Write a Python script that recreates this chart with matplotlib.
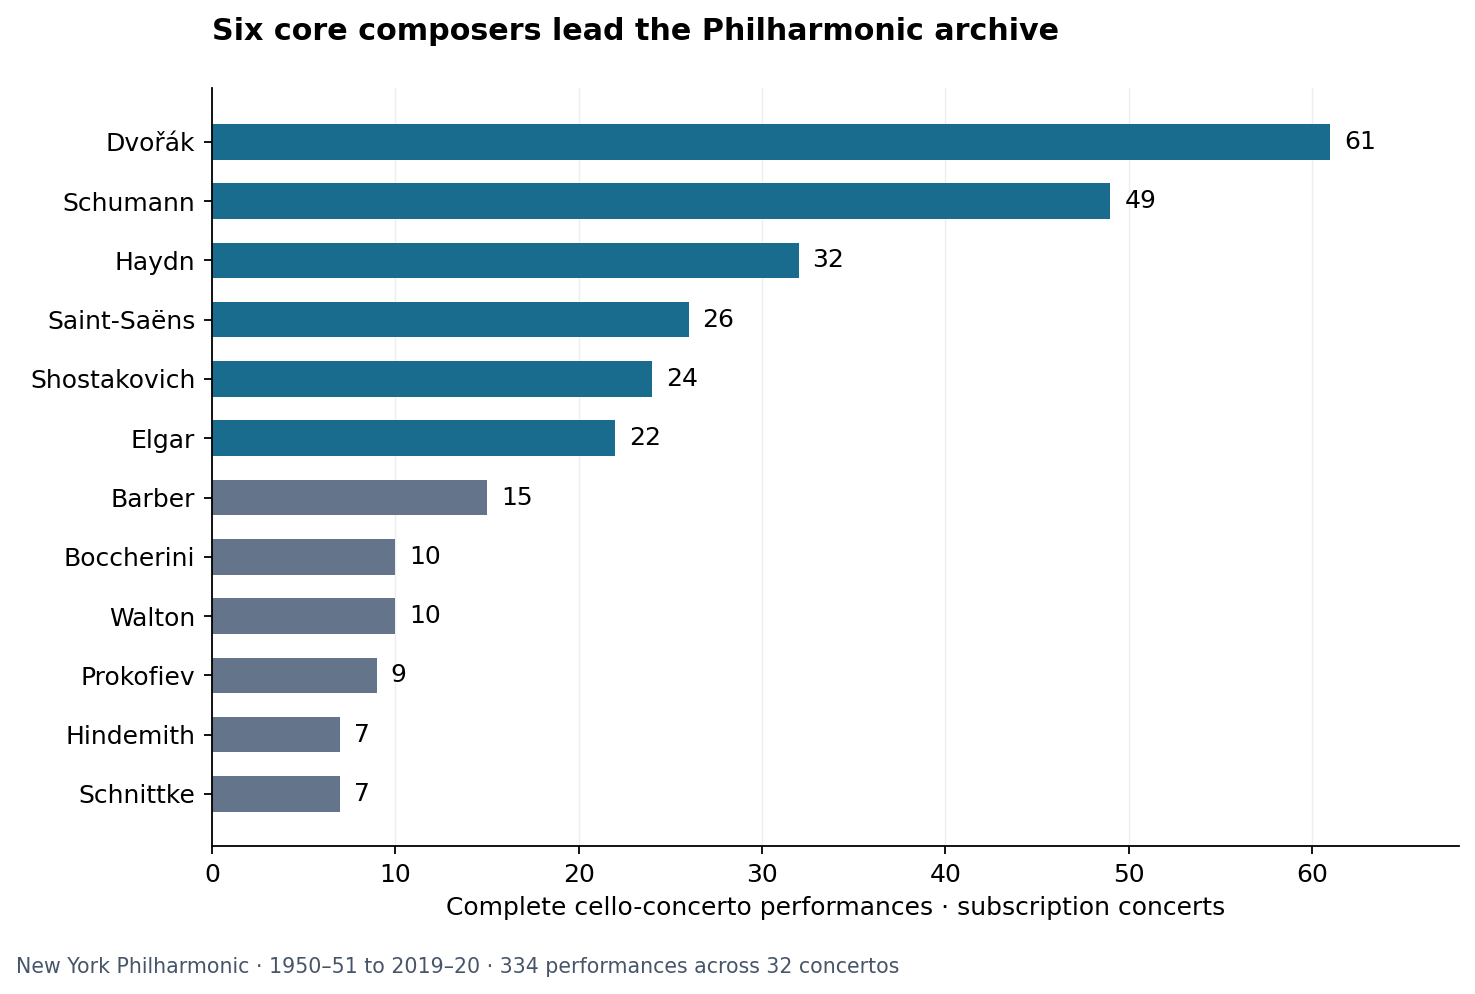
import numpy as np
import matplotlib.pyplot as plt

# Composers and number of complete cello-concerto performances
composers = ['Dvořák', 'Schumann', 'Haydn', 'Saint-Saëns', 'Shostakovich', 'Elgar',
             'Barber', 'Boccherini', 'Walton', 'Prokofiev', 'Hindemith', 'Schnittke']
performances = [61, 49, 32, 26, 24, 22, 15, 10, 10, 9, 7, 7]
n_core = 6

core_color = '#1a6c8f'
other_color = '#64748b'

fig = plt.figure(figsize=(14.75, 9.94), dpi=100)
ax = fig.add_axes([0.1437, 0.1489, 0.8453, 0.7626])

y = np.arange(len(composers))
colors = [core_color if i < n_core else other_color for i in range(len(composers))]
ax.barh(y, performances, height=0.6, color=colors, zorder=2)
ax.set_ylim(len(composers) - 1 + 0.88, -0.91)

for yi, v in zip(y, performances):
    ax.annotate(str(v), xy=(v, yi), xytext=(10, 0), textcoords='offset points',
                va='center', ha='left', fontsize=18)

ax.set_yticks(y)
ax.set_yticklabels(composers, fontsize=18)
ax.tick_params(axis='x', labelsize=18)
ax.set_xlim(0, 68)
ax.set_xticks(np.arange(0, 70, 10))
ax.grid(axis='x', color='#eeeeee', linewidth=1, zorder=0)
ax.set_axisbelow(True)
for s in ['top', 'right']:
    ax.spines[s].set_visible(False)
for s in ['left', 'bottom']:
    ax.spines[s].set_linewidth(1.3)
ax.tick_params(width=1.3, length=6, pad=6)

ax.set_xlabel('Complete cello-concerto performances · subscription concerts',
              fontsize=18, labelpad=7)
fig.text(0.1437, 0.968, 'Six core composers lead the Philharmonic archive',
         fontsize=21.7, fontweight='bold', ha='left', va='center')
fig.text(0.011, 0.027, 'New York Philharmonic · 1950–51 to 2019–20 · 334 performances across 32 concertos',
         fontsize=14.8, color='#475569', ha='left', va='center')

fig.savefig('out.png', dpi=100)
